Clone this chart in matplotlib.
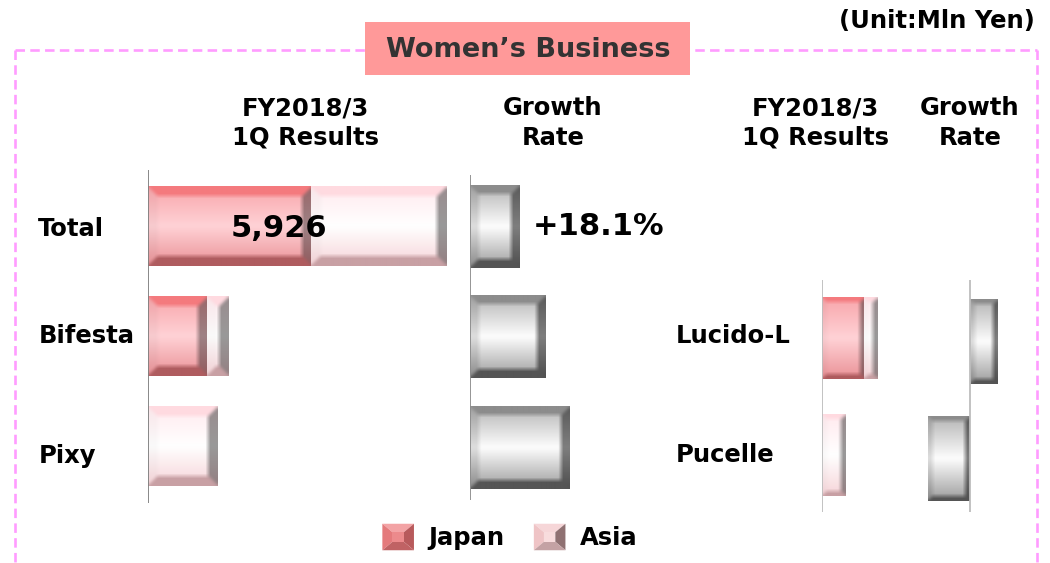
import numpy as np
import matplotlib.pyplot as plt
import matplotlib.transforms as mtransforms
from matplotlib.lines import Line2D
from matplotlib.patches import Rectangle, Polygon, Patch
from matplotlib.legend_handler import HandlerBase

# data (Mln Yen / %)
left_rows = ["Total", "Bifesta", "Pixy"]
left_japan = [3240, 1175, 0]
left_asia = [2686, 435, 1390]
left_growth = [18.1, 27.2, 35.9]
right_rows = ["Lucido-L", "Pucelle"]
right_japan = [835, 0]
right_asia = [260, 460]
right_growth = [9.8, -15.2]
total_label = "5,926"
growth_label = "+18.1%"
series = ["Japan", "Asia"]

W, H = 1050, 563
plt.rcParams['font.family'] = ['DejaVu Sans']
plt.rcParams['font.weight'] = 'bold'
FS = 17.5

PAL = {
    "japan": dict(top=(244, 122, 126), ftop=(248, 165, 170), fmid=(255, 210, 214),
                  fbot=(234, 145, 150), bot=(175, 92, 95), left=0.97, right=0.62),
    "asia": dict(top=(255, 218, 224), ftop=(255, 234, 238), fmid=(255, 255, 255),
                 fbot=(246, 212, 216), bot=(200, 160, 164), left=0.98, right=0.6),
    "gray": dict(top=(140, 140, 140), ftop=(180, 180, 180), fmid=(253, 253, 253),
                 fbot=(155, 155, 155), bot=(85, 85, 85), left=0.88, right=0.5),
}


def blur(img, r):
    # separable box blur, edge padded
    k = np.ones(2 * r + 1) / (2 * r + 1)
    out = img.copy()
    for axis in (0, 1):
        pad = [(0, 0)] * 3
        pad[axis] = (r, r)
        p = np.pad(out, pad, mode='edge')
        out = np.apply_along_axis(lambda v: np.convolve(v, k, mode='valid'), axis, p)
    return out


def bevel_image(w, h, pal, b):
    w = max(int(round(w)), 2)
    h = max(int(round(h)), 2)
    yy, xx = np.mgrid[0:h, 0:w] + 0.5
    c = {k: np.array(pal[k], float) / 255 for k in ("top", "ftop", "fmid", "fbot", "bot")}
    t = yy / h
    s = (np.abs(t - 0.5) * 2)[..., None]
    prof = np.where((t < 0.5)[..., None], c["fmid"] + (c["ftop"] - c["fmid"]) * s,
                    c["fmid"] + (c["fbot"] - c["fmid"]) * s)
    img = prof.copy()
    d = np.stack([yy, h - yy, xx, w - xx])
    side = d.argmin(0)
    inb = d.min(0) < b
    img[inb & (side == 2)] = prof[inb & (side == 2)] * pal["left"]
    img[inb & (side == 3)] = prof[inb & (side == 3)] * pal["right"]
    img[inb & (side == 0)] = c["top"]
    img[inb & (side == 1)] = c["bot"]
    img = blur(img, 2)
    return np.clip(img, 0, 1)


def shade_bars(ax, bars, pal, b):
    for r in bars:
        x0, x1 = sorted([r.get_x(), r.get_x() + r.get_width()])
        y0, y1 = r.get_y(), r.get_y() + r.get_height()
        p0 = ax.transData.transform((x0, y0))
        p1 = ax.transData.transform((x1, y1))
        wpx, hpx = abs(p1[0] - p0[0]), abs(p1[1] - p0[1])
        if wpx < 1:
            continue
        img = bevel_image(wpx, hpx, pal, b)
        ax.imshow(img, extent=(x0, x1, y1, y0), aspect='auto', origin='upper',
                  interpolation='bilinear', zorder=2)


def px_axes(x0, y0, x1, y1):
    return fig.add_axes([x0 / W, 1 - y1 / H, (x1 - x0) / W, (y1 - y0) / H])


def clean(ax):
    for s in ax.spines.values():
        s.set_visible(False)
    ax.set_xticks([])
    ax.tick_params(axis='y', length=0)
    ax.patch.set_alpha(0)


def nudge_labels(ax, shifts_px):
    # row labels sit a little off the bar centres in the original
    for lab, dy in zip(ax.get_yticklabels(), shifts_px):
        off = mtransforms.ScaledTranslation(0, -dy / 100, fig.dpi_scale_trans)
        lab.set_transform(lab.get_transform() + off)


fig = plt.figure(figsize=(W / 100, H / 100), dpi=100)

# left results panel
ax1 = px_axes(148, 170, 460, 503)
lim1 = ((0, 6200), (2.518, -0.509))
ax1.set_xlim(*lim1[0]); ax1.set_ylim(*lim1[1])
ypos = np.arange(len(left_rows))
bj = ax1.barh(ypos, left_japan, height=0.727, color='none')
ba = ax1.barh(ypos, left_asia, left=left_japan, height=0.727, color='none')
shade_bars(ax1, bj, PAL["japan"], 10)
shade_bars(ax1, ba, PAL["asia"], 10)
ax1.set_xlim(*lim1[0]); ax1.set_ylim(*lim1[1])
ax1.axvline(0, color='#7f7f7f', lw=1.3)
clean(ax1)
ax1.set_yticks(ypos, left_rows, fontsize=FS, ha='left')
ax1.tick_params(axis='y', pad=79)
nudge_labels(ax1, [1, -3, 7])
tot = left_japan[0] + left_asia[0]
ax1.text(tot * 0.44, 0.02, total_label, fontsize=22, ha='center', va='center', zorder=5)

# left growth panel
ax2 = px_axes(470, 175, 620, 500)
lim2 = ((0, 54.3), (2.518 - 5 / 110, -0.509 + 5 / 110))
ax2.set_xlim(*lim2[0]); ax2.set_ylim(*lim2[1])
bg = ax2.barh(ypos, left_growth, height=0.727 * 333 / 323, color='none')
shade_bars(ax2, bg, PAL["gray"], 9)
ax2.set_xlim(*lim2[0]); ax2.set_ylim(*lim2[1])
ax2.axvline(0, color='#8c8c8c', lw=1.3)
clean(ax2)
ax2.set_yticks([])
ax2.annotate(growth_label, (left_growth[0], 0), xytext=(9, 0), textcoords='offset points',
             fontsize=22, ha='left', va='center')

# right results panel
ax3 = px_axes(822, 280, 900, 512)
ypos2 = np.arange(len(right_rows))
lim3 = ((0, 78 * 6200 / 312), (1.487, -0.496))
ax3.set_xlim(*lim3[0]); ax3.set_ylim(*lim3[1])
rj = ax3.barh(ypos2, right_japan, height=0.70, color='none')
ra = ax3.barh(ypos2, right_asia, left=right_japan, height=0.70, color='none')
shade_bars(ax3, rj, PAL["japan"], 5)
shade_bars(ax3, ra, PAL["asia"], 5)
ax3.set_xlim(*lim3[0]); ax3.set_ylim(*lim3[1])
ax3.axvline(0, color='#bdbdbd', lw=1.3)
clean(ax3)
ax3.set_yticks(ypos2, right_rows, fontsize=FS, ha='left')
ax3.tick_params(axis='y', pad=105)
nudge_labels(ax3, [-5, -3])

# right growth panel
ax4 = px_axes(920, 280, 1010, 512)
lim4 = ((-50 / 2.76, 40 / 2.76), (1.487, -0.496))
ax4.set_xlim(*lim4[0]); ax4.set_ylim(*lim4[1])
rg = ax4.barh(ypos2 + 0.03, right_growth, height=0.72, color='none')
shade_bars(ax4, rg, PAL["gray"], 5)
ax4.set_xlim(*lim4[0]); ax4.set_ylim(*lim4[1])
ax4.axvline(0, color='#bdbdbd', lw=1.3)
clean(ax4)
ax4.set_yticks([])

# headers
for x, s in [(305, "FY2018/3\n1Q Results"), (553, "Growth\nRate"),
             (815, "FY2018/3\n1Q Results"), (970, "Growth\nRate")]:
    fig.text(x / W, 1 - 123 / H, s, fontsize=FS, ha='center', va='center', linespacing=1.3)

# dashed frame and title
pink = '#ff9cff'
ls = (0, (3.6, 2.0))
for xs, ys in [((15, 1037), (50, 50)), ((15, 15), (50, 563)), ((1037, 1037), (50, 563))]:
    fig.add_artist(Line2D([x / W for x in xs], [1 - y / H for y in ys], color=pink,
                          lw=1.9, linestyle=ls, transform=fig.transFigure))
fig.add_artist(Rectangle((365 / W, 1 - 75 / H), 325 / W, 53 / H, facecolor='#ff9999',
                         edgecolor='none', transform=fig.transFigure, zorder=3))
fig.text(528 / W, 1 - 50 / H, "Women\u2019s Business", fontsize=19.5, color='#333333',
         ha='center', va='center', zorder=4)
fig.text(1035 / W, 1 - 21 / H, "(Unit:Mln Yen)", fontsize=17.5, ha='right', va='center')


class PyramidHandler(HandlerBase):
    def __init__(self, cols):
        super().__init__()
        self.cols = cols

    def create_artists(self, legend, orig_handle, xdescent, ydescent, width, height,
                       fontsize, trans):
        x0, y0 = -xdescent, -ydescent
        x1, y1 = x0 + width, y0 + height
        ix, iy = width * 0.32, height * 0.32
        a, b, c, d = (x0, y0), (x1, y0), (x1, y1), (x0, y1)
        ia, ib, ic, idd = (x0 + ix, y0 + iy), (x1 - ix, y0 + iy), (x1 - ix, y1 - iy), (x0 + ix, y1 - iy)
        polys = [([d, c, ic, idd], self.cols[0]), ([a, d, idd, ia], self.cols[1]),
                 ([b, c, ic, ib], self.cols[2]), ([a, b, ib, ia], self.cols[3]),
                 ([ia, ib, ic, idd], self.cols[4])]
        arts = []
        for pts, col in polys:
            p = Polygon(pts, closed=True, facecolor=col, edgecolor='none', transform=trans)
            arts.append(p)
        return arts


hj = Patch(facecolor='#e88')
ha_ = Patch(facecolor='#fdd')
fig.legend([hj, ha_], series, loc='center', bbox_to_anchor=(510 / W, 1 - 537 / H),
           ncol=2, frameon=False, fontsize=FS, handlelength=1.3, handleheight=1.3,
           handletextpad=0.6, columnspacing=1.2,
           handler_map={hj: PyramidHandler(['#f3a3a5', '#e47a7c', '#b85a5c', '#c06264', '#ec8a8c']),
                        ha_: PyramidHandler(['#f6d6d8', '#efc4c6', '#8f7172', '#c4a2a4', '#f8dcdd'])})

fig.savefig("out.png", dpi=100)
